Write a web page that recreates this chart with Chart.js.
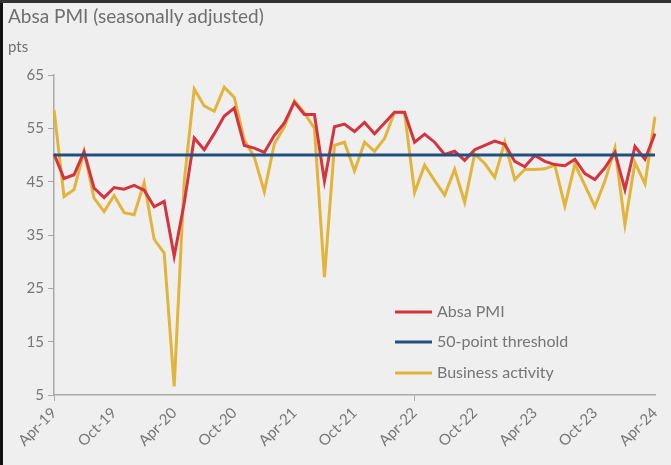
<!DOCTYPE html>
<html>
<head>
<meta charset="utf-8">
<script src="https://cdn.jsdelivr.net/npm/chart.js@4.4.1/dist/chart.umd.min.js"></script>
<style>
  html, body { margin: 0; padding: 0; background: #efefef; }
  #wrap { position: relative; width: 671px; height: 465px; overflow: hidden; background: #efefef; }
  #title { position: absolute; left: 8px; top: 4px; font: 19px Lato, "Open Sans", sans-serif; color: #6f6f6f; }
  #unit { position: absolute; left: 8px; top: 37px; font: 15px Lato, "Open Sans", sans-serif; color: #6f6f6f; }
  #bl { position: absolute; left: 0; top: 0; width: 3px; height: 465px; background: #111; }
  #bt { position: absolute; left: 0; top: 0; width: 671px; height: 3px; background: #333; }
  canvas { position: absolute; left: 0; top: 0; }
</style>
</head>
<body>
<div id="wrap">
  <canvas id="pmiChart" width="671" height="465"></canvas>
  <div id="title">Absa PMI (seasonally adjusted)</div>
  <div id="unit">pts</div>
  <div id="bl"></div>
  <div id="bt"></div>
</div>
<script>
// monthly, Apr-19 .. Apr-24
const months = [
  "Apr-19","May-19","Jun-19","Jul-19","Aug-19","Sep-19","Oct-19","Nov-19","Dec-19","Jan-20","Feb-20","Mar-20",
  "Apr-20","May-20","Jun-20","Jul-20","Aug-20","Sep-20","Oct-20","Nov-20","Dec-20","Jan-21","Feb-21","Mar-21",
  "Apr-21","May-21","Jun-21","Jul-21","Aug-21","Sep-21","Oct-21","Nov-21","Dec-21","Jan-22","Feb-22","Mar-22",
  "Apr-22","May-22","Jun-22","Jul-22","Aug-22","Sep-22","Oct-22","Nov-22","Dec-22","Jan-23","Feb-23","Mar-23",
  "Apr-23","May-23","Jun-23","Jul-23","Aug-23","Sep-23","Oct-23","Nov-23","Dec-23","Jan-24","Feb-24","Mar-24",
  "Apr-24"
];
const tickEvery = 6;

const absaPmi = [
  50.2, 45.6, 46.3, 50.6, 43.8, 42.0, 43.9, 43.6, 44.3, 43.4, 40.3, 41.3,
  31.0, 41.0, 53.2, 51.0, 54.0, 57.3, 58.8, 51.8, 51.3, 50.5, 53.7, 56.0,
  59.9, 57.6, 57.6, 45.1, 55.3, 55.8, 54.4, 56.1, 54.0, 56.0, 58.0, 58.0,
  52.4, 53.9, 52.4, 50.1, 50.7, 49.0, 51.0, 51.8, 52.6, 52.0, 48.8, 47.8,
  49.9, 48.8, 48.2, 48.0, 49.2, 46.5, 45.4, 47.6, 50.5, 43.5, 51.6, 49.2,
  54.0
];

const businessActivity = [
  58.5, 42.2, 43.5, 50.7, 41.9, 39.4, 42.4, 39.2, 38.8, 44.8, 34.2, 31.6,
  6.6, 45.0, 62.4, 59.2, 58.2, 62.7, 60.8, 52.8, 49.6, 43.1, 52.1, 55.3,
  60.2, 57.9, 55.0, 27.1, 51.8, 52.4, 47.0, 52.4, 50.7, 53.1, 58.0, 57.9,
  43.0, 48.1, 45.2, 42.5, 47.3, 41.1, 50.2, 48.4, 45.8, 52.4, 45.4, 47.3,
  47.3, 47.4, 48.1, 40.4, 48.3, 44.3, 40.3, 45.1, 51.3, 37.0, 48.6, 44.6,
  57.2
];

const threshold = 50;
const yTicks = [5, 15, 25, 35, 45, 55, 65];

const axisGrey = "#a9a9a9";
const textGrey = "#767676";

// legend drawn inside plot area, lower right
const insideLegend = {
    id: "insideLegend",
    afterDraw(chart) {
        const ctx = chart.ctx;
        const x0 = 395, x1 = 432, tx = 437;
        const rows = [312, 342, 373];
        ctx.save();
        ctx.font = "16px Lato, 'Open Sans', sans-serif";
        ctx.textBaseline = "middle";
        chart.data.datasets.forEach((ds, i) => {
            const y = rows[i];
            ctx.strokeStyle = ds.borderColor;
            ctx.lineWidth = 3;
            ctx.beginPath();
            ctx.moveTo(x0, y);
            ctx.lineTo(x1, y);
            ctx.stroke();
            ctx.fillStyle = textGrey;
            ctx.fillText(ds.label, tx, y);
        });
        ctx.restore();
    }
};

const ctx = document.getElementById("pmiChart").getContext("2d");
new Chart(ctx, {
    type: "line",
    data: {
        labels: months,
        datasets: [
            {
                label: "Absa PMI",
                data: absaPmi,
                borderColor: "#d3343f",
                borderWidth: 3,
                pointRadius: 0,
                tension: 0,
                order: 1
            },
            {
                label: "50-point threshold",
                data: months.map(() => threshold),
                borderColor: "#22507c",
                borderWidth: 3,
                pointRadius: 0,
                order: 0
            },
            {
                label: "Business activity",
                data: businessActivity,
                borderColor: "#e3b43a",
                borderWidth: 3,
                pointRadius: 0,
                tension: 0,
                order: 2
            }
        ]
    },
    options: {
        responsive: false,
        animation: false,
        layout: { padding: { left: 10, right: 16, top: 75, bottom: 0 } },
        plugins: {
            legend: { display: false },
            tooltip: { enabled: false }
        },
        scales: {
            x: {
                offset: false,
                border: { color: axisGrey, width: 1.5 },
                grid: {
                    drawOnChartArea: false,
                    tickLength: 6,
                    color: c => (c.index % tickEvery === 0 ? axisGrey : "rgba(0,0,0,0)")
                },
                ticks: {
                    autoSkip: false,
                    maxRotation: 45,
                    minRotation: 45,
                    color: textGrey,
                    font: { family: "Lato, 'Open Sans', sans-serif", size: 15 },
                    callback: (v, i) => (i % tickEvery === 0 ? months[i] : null)
                },
                afterFit: s => { s.height = 70; }
            },
            y: {
                min: 5,
                max: 65,
                afterBuildTicks: s => { s.ticks = yTicks.map(v => ({ value: v })); },
                border: { color: axisGrey, width: 1.5 },
                grid: { drawOnChartArea: false, tickLength: 6, color: axisGrey },
                ticks: {
                    color: textGrey,
                    padding: 4,
                    font: { family: "Lato, 'Open Sans', sans-serif", size: 15 }
                },
                afterFit: s => { s.width = 44; }
            }
        }
    },
    plugins: [insideLegend]
});
</script>
</body>
</html>
